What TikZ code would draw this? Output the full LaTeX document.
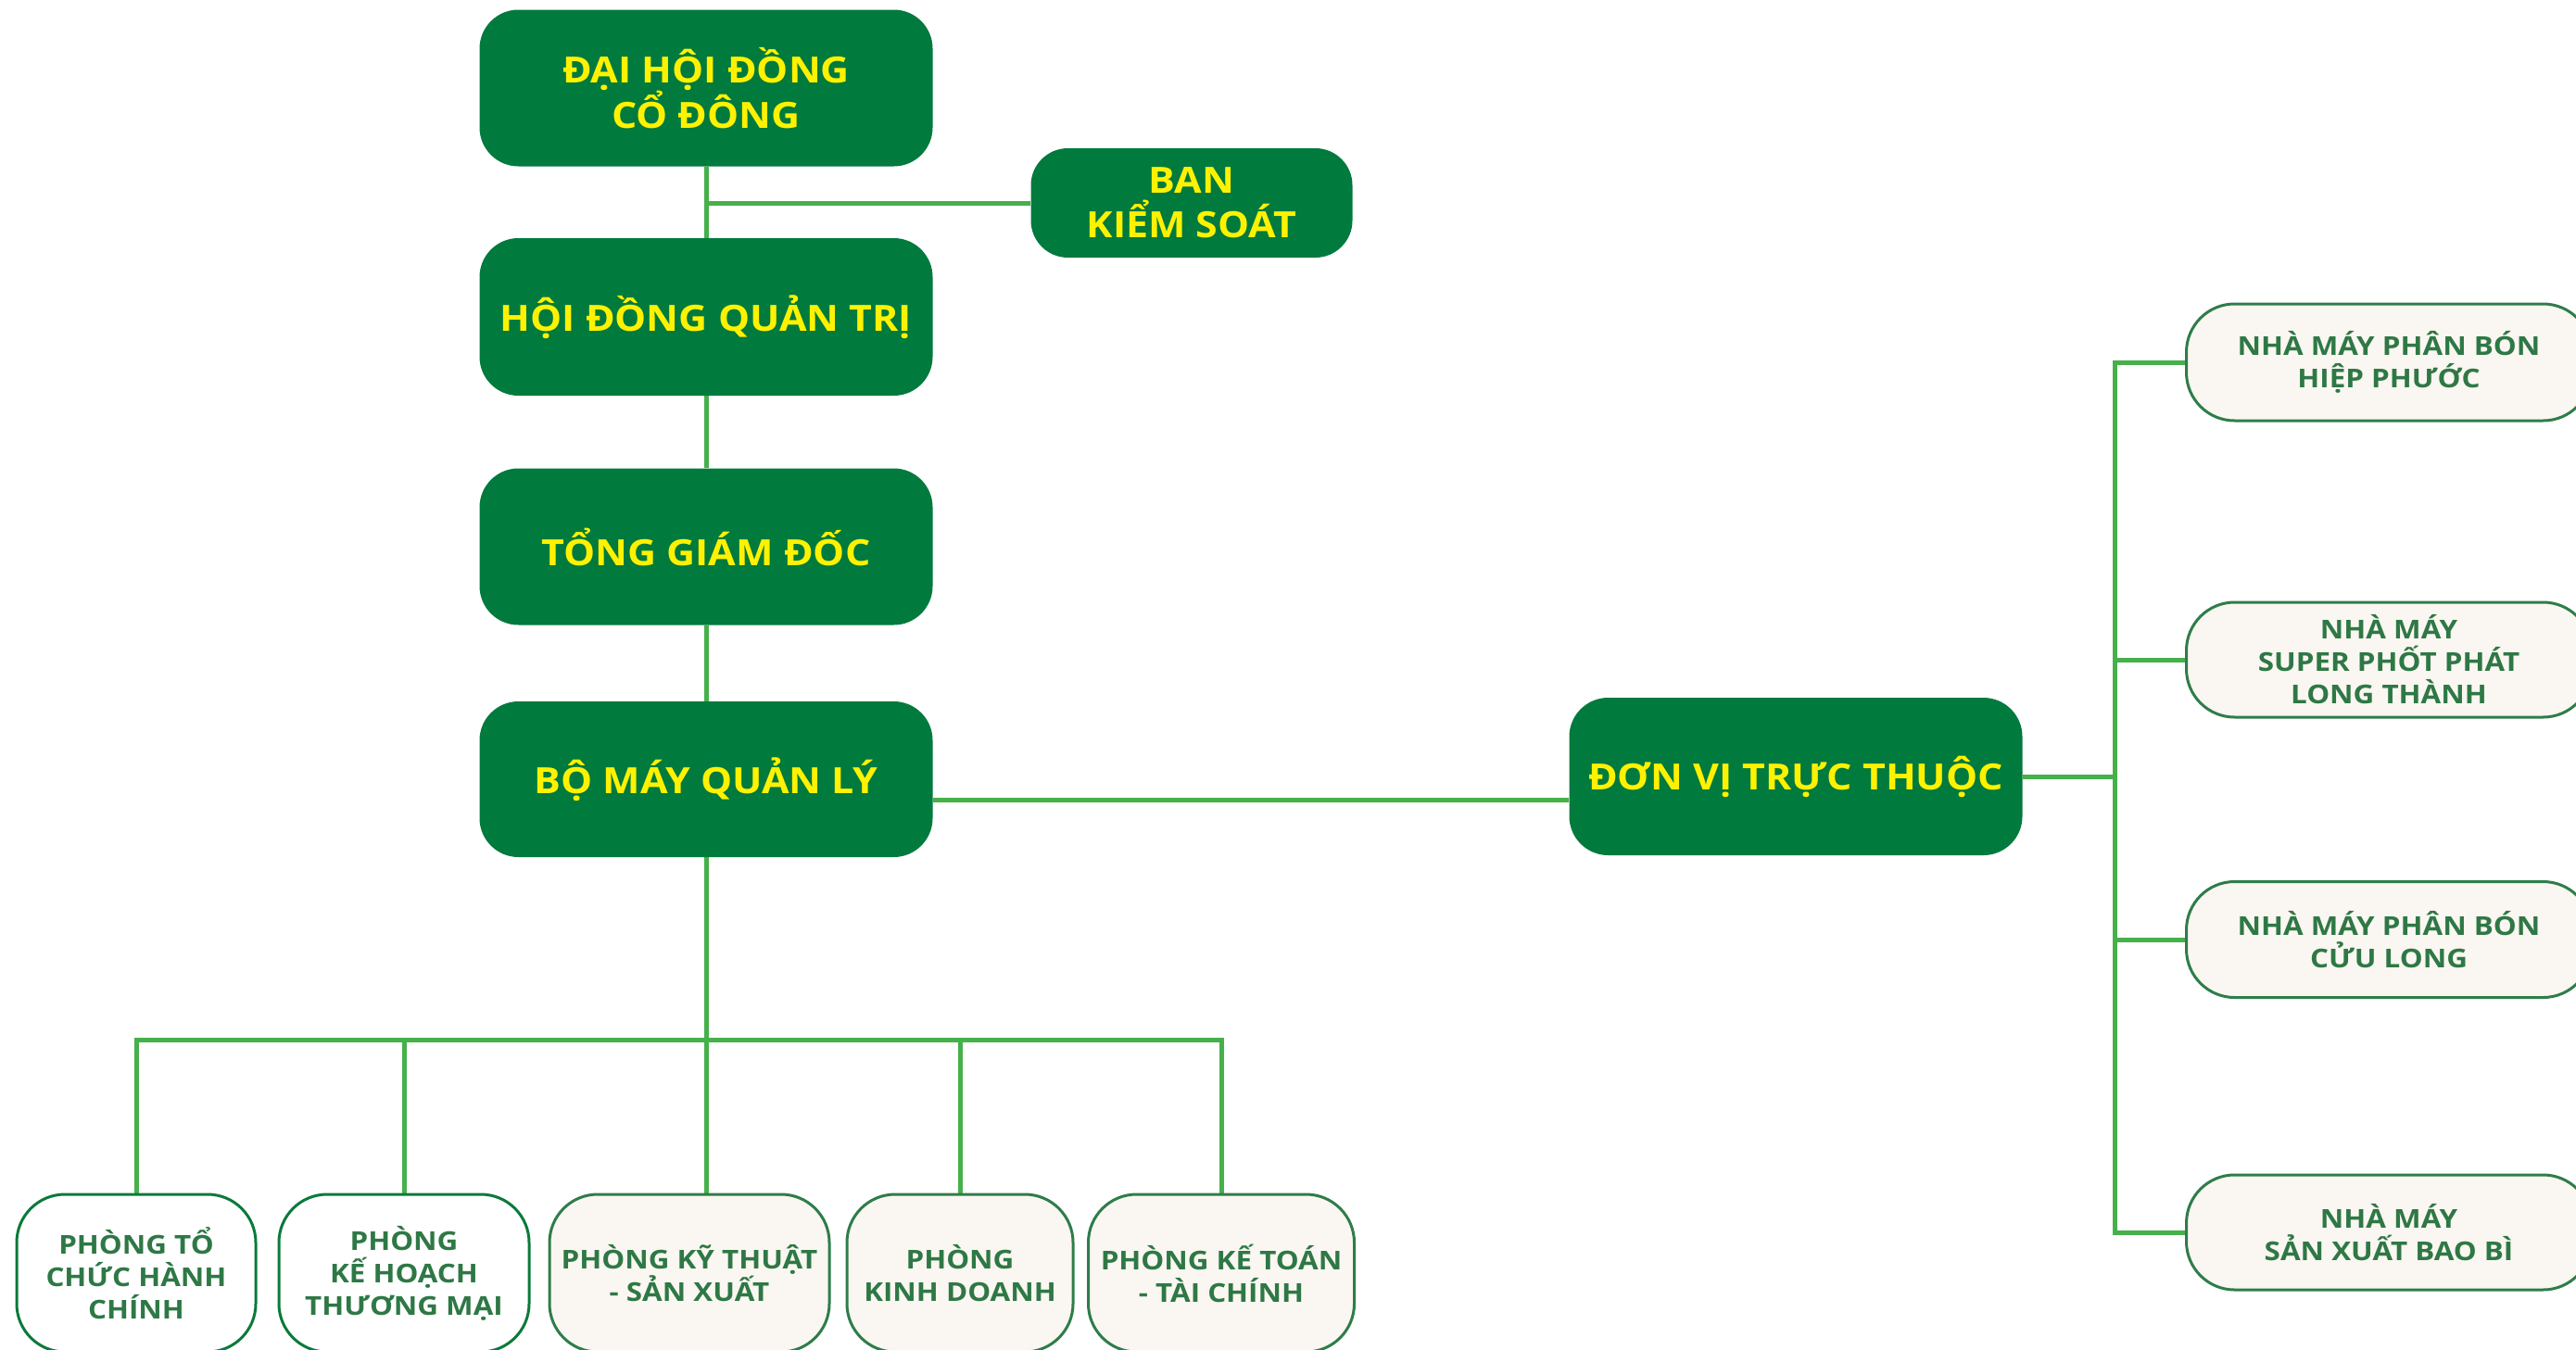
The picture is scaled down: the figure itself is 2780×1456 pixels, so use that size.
\documentclass[tikz,border=0pt]{standalone}
\usepackage{fontspec}
\usetikzlibrary{backgrounds}
\newfontfamily\lightf{Open Sans}[FakeStretch=1.12]
\newfontfamily\darkf{Open Sans}[FakeStretch=1.1]
\definecolor{dg}{HTML}{007A3D}
\definecolor{yel}{HTML}{FFF200}
\definecolor{conn}{HTML}{46B04A}
\definecolor{cream}{HTML}{FAF6F1}
\definecolor{lborder}{HTML}{2E7D4A}
\definecolor{ltext}{HTML}{2E7845}
\definecolor{wborder}{HTML}{0B7A3B}
\begin{document}
\begin{tikzpicture}[x=1pt,y=-1pt,
  darkbox/.style={fill=dg, rounded corners=42pt, text=yel, align=center, inner sep=0pt,
    font=\darkf\bfseries\fontsize{39}{48}\selectfont},
  lightbox/.style={draw=lborder, line width=3pt, fill=cream, rounded corners=52pt, text=ltext,
    align=center, inner sep=0pt, font=\lightf\bfseries\fontsize{28}{35}\selectfont},
  whitebox/.style={lightbox, fill=white, draw=wborder},
  connline/.style={draw=conn, line width=5pt}]
\useasboundingbox (0,0) rectangle (2780,1456);
\clip (0,0) rectangle (2780,1456);
% top column
\node[darkbox, minimum width=489pt, minimum height=169pt] (dh) at (762,95) {ĐẠI HỘI ĐỒNG\\CỔ ĐÔNG};
\node[darkbox, minimum width=347pt, minimum height=118pt, rounded corners=40pt] (ban) at (1286,219) {BAN\\KIỂM SOÁT};
\node[darkbox, minimum width=489pt, minimum height=170pt] (hd) at (762,342) {HỘI ĐỒNG QUẢN TRỊ};
\node[darkbox, minimum width=489pt, minimum height=169pt] (tg) at (762,590) {TỔNG GIÁM ĐỐC};
\node[darkbox, minimum width=489pt, minimum height=168pt] (bm) at (762,841) {BỘ MÁY QUẢN LÝ};
\node[darkbox, minimum width=489pt, minimum height=170pt] (dv) at (1938,838) {ĐƠN VỊ TRỰC THUỘC};
% right column
\node[lightbox, minimum width=437pt, minimum height=126pt] (r1) at (2578,391) {NHÀ MÁY PHÂN BÓN\\HIỆP PHƯỚC};
\node[lightbox, minimum width=437pt, minimum height=124pt] (r2) at (2578,712) {NHÀ MÁY\\SUPER PHỐT PHÁT\\LONG THÀNH};
\node[lightbox, minimum width=437pt, minimum height=125pt] (r3) at (2578,1014) {NHÀ MÁY PHÂN BÓN\\CỬU LONG};
\node[lightbox, minimum width=437pt, minimum height=124pt] (r4) at (2578,1330) {NHÀ MÁY\\SẢN XUẤT BAO BÌ};
% bottom row
\node[whitebox, minimum width=258pt, minimum height=170pt] (b1) at (147,1374) {PHÒNG TỔ\\CHỨC HÀNH\\CHÍNH};
\node[whitebox, minimum width=270pt, minimum height=170pt] (b2) at (436,1374) {PHÒNG\\KẾ HOẠCH\\THƯƠNG MẠI};
\node[lightbox, minimum width=302pt, minimum height=170pt] (b3) at (744,1374) {PHÒNG KỸ THUẬT\\- SẢN XUẤT};
\node[lightbox, minimum width=244pt, minimum height=170pt] (b4) at (1036,1374) {PHÒNG\\KINH DOANH};
\node[lightbox, minimum width=287pt, minimum height=170pt] (b5) at (1318,1374) {PHÒNG KẾ TOÁN\\- TÀI CHÍNH};
\coordinate (rv) at (2282,838);
\coordinate (bus) at (762,1122);
\begin{pgfonlayer}{background}
\fill[white] (0,0) rectangle (2780,1456);
\draw[connline] (dh.south) -- (hd.north);
\draw[connline] (dh.south |- ban.west) -- (ban.west);
\draw[connline] (hd.south) -- (tg.north);
\draw[connline] (tg.south) -- (bm.north);
\draw[connline] ([yshift=-22pt]bm.east) -- ([yshift=-22pt]bm.east -| dv.west);
\draw[connline] (dv.east) -- (rv);
\draw[connline, line cap=rect] (rv |- r1.west) -- (rv |- r4.west);
\foreach \r in {r1,r2,r3,r4} \draw[connline] (rv |- \r.west) -- (\r.west);
\draw[connline] (bm.south) -- (bus) -- (bus |- b3.north);
\draw[connline, line cap=rect] (bus -| b1.north) -- (bus -| b5.north);
\foreach \b in {b1,b2,b4,b5} \draw[connline] (bus -| \b.north) -- (\b.north);
\end{pgfonlayer}
\end{tikzpicture}
\end{document}
